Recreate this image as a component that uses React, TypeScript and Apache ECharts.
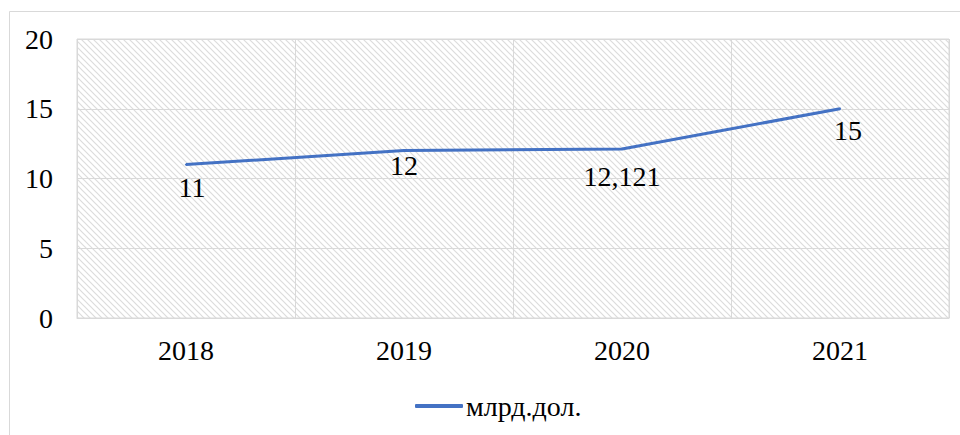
import React, { useEffect, useRef } from "react";
import * as echarts from "echarts";

const categories = ["2018", "2019", "2020", "2021"];
const values = [11, 12, 12.121, 15];
const seriesName = "млрд.дол.";
const yTicks = { min: 0, max: 20, interval: 5 };
// label nudges (style only)
const labelOffsets: [number, number][] = [[6, 8], [0, 0], [0, 13], [8, 7]];

const FONT = "Liberation Serif";
const FS = 28;
const GRID_COLOR = "#d9d9d9";
const LINE_COLOR = "#4472C4";

function makeHatch() {
  const c = document.createElement("canvas");
  const s = 6;
  c.width = s;
  c.height = s;
  const ctx = c.getContext("2d")!;
  ctx.fillStyle = "#ffffff";
  ctx.fillRect(0, 0, s, s);
  ctx.strokeStyle = "#dcdcdc";
  ctx.lineWidth = 1.2;
  ctx.beginPath();
  ctx.moveTo(-1, -1);
  ctx.lineTo(s + 1, s + 1);
  ctx.moveTo(-1, s - 1);
  ctx.lineTo(1, s + 1);
  ctx.moveTo(s - 1, -1);
  ctx.lineTo(s + 1, 1);
  ctx.stroke();
  return c;
}

export default function App() {
  const ref = useRef<HTMLDivElement>(null);
  useEffect(() => {
    if (!ref.current) return;
    const chart = echarts.init(ref.current, null, { renderer: "svg" });
    const txt = { fontFamily: FONT, fontSize: FS, color: "#000", fontWeight: "normal" as const };
    chart.setOption({
      animation: false,
      backgroundColor: "#ffffff",
      textStyle: { fontFamily: FONT },
      graphic: [
        {
          type: "rect",
          shape: { x: 9.5, y: 11.5, width: 980, height: 460 },
          style: { fill: "none", stroke: GRID_COLOR, lineWidth: 1 },
          silent: true,
          z: -10,
        },
      ],
      grid: {
        left: 77,
        right: 11,
        top: 39,
        bottom: 117,
        show: true,
        backgroundColor: { image: makeHatch(), repeat: "repeat" },
        borderColor: GRID_COLOR,
        borderWidth: 1,
      },
      legend: {
        data: [seriesName],
        left: 410,
        top: 387,
        icon: "roundRect",
        itemWidth: 48,
        itemHeight: 4,
        itemGap: 10,
        itemStyle: { color: LINE_COLOR },
        textStyle: { ...txt, padding: [0, 0, 0, -2] },
      },
      xAxis: {
        type: "category",
        data: categories,
        boundaryGap: true,
        axisLine: { show: true, lineStyle: { color: GRID_COLOR, width: 1 } },
        axisTick: { show: false },
        splitLine: { show: true, lineStyle: { color: GRID_COLOR, width: 1 } },
        axisLabel: { ...txt, margin: 18 },
      },
      yAxis: {
        type: "value",
        min: yTicks.min,
        max: yTicks.max,
        interval: yTicks.interval,
        axisLine: { show: false },
        axisTick: { show: false },
        splitLine: { show: true, lineStyle: { color: GRID_COLOR, width: 1 } },
        axisLabel: { ...txt, margin: 24 },
      },
      series: [
        {
          name: seriesName,
          type: "line",
          data: values.map((v, i) => ({
            value: v,
            label: { offset: labelOffsets[i] },
          })),
          symbol: "circle",
          symbolSize: 2,
          showSymbol: true,
          itemStyle: { color: LINE_COLOR },
          lineStyle: { color: LINE_COLOR, width: 3 },
          label: {
            show: true,
            position: "bottom",
            distance: 0,
            ...txt,
            formatter: (p: any) => String(p.value).replace(".", ","),
          },
        },
      ],
    });
    return () => chart.dispose();
  }, []);
  return <div ref={ref} style={{ width: 960, height: 435, position: "absolute", left: 0, top: 0 }} />;
}
